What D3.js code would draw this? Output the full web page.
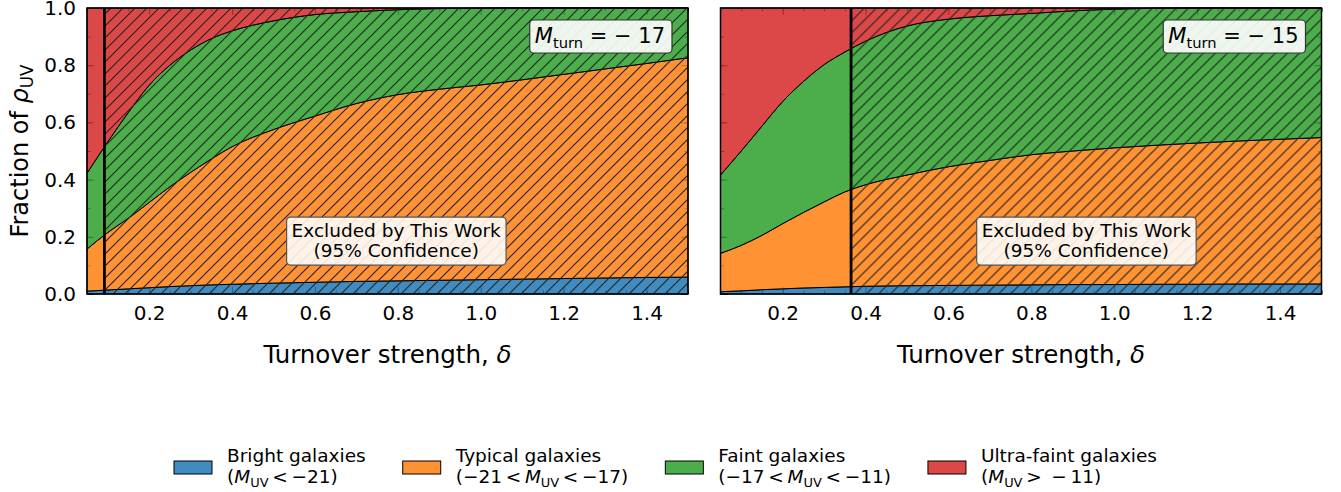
<!DOCTYPE html>
<html>
<head>
<meta charset="utf-8">
<script src="https://cdn.jsdelivr.net/npm/d3@7/dist/d3.min.js"></script>
<style>
body { margin: 0; background: #fff; }
text { font-family: "DejaVu Sans", sans-serif; fill: #000; }
</style>
</head>
<body>
<svg id="chart" width="1341" height="492"></svg>
<script>
// turnover strength grid
var delta = [0.05, 0.10, 0.15, 0.20, 0.25, 0.30, 0.35, 0.40, 0.50, 0.60, 0.70, 0.80, 0.90, 1.00, 1.10, 1.20, 1.30, 1.40, 1.50];

// fractions of rho_UV, M_turn = -17
var bright17 = [0.010, 0.014, 0.018, 0.022, 0.026, 0.029, 0.032, 0.034, 0.038, 0.041, 0.044, 0.046, 0.048, 0.050, 0.052, 0.054, 0.056, 0.058, 0.059];
var typical17 = [0.147, 0.201, 0.247, 0.298, 0.349, 0.396, 0.440, 0.481, 0.537, 0.581, 0.622, 0.651, 0.668, 0.681, 0.697, 0.714, 0.731, 0.748, 0.767];
var faint17 = [0.265, 0.317, 0.370, 0.410, 0.425, 0.428, 0.421, 0.405, 0.380, 0.355, 0.321, 0.297, 0.282, 0.268, 0.251, 0.232, 0.213, 0.194, 0.174];
var ultra17 = [0.578, 0.468, 0.365, 0.270, 0.200, 0.147, 0.107, 0.080, 0.045, 0.023, 0.013, 0.006, 0.002, 0.001, 0.000, 0.000, 0.000, 0.000, 0.000];

// fractions of rho_UV, M_turn = -15
var bright15 = [0.008, 0.011, 0.015, 0.018, 0.021, 0.023, 0.025, 0.027, 0.029, 0.030, 0.031, 0.032, 0.033, 0.033, 0.034, 0.034, 0.035, 0.035, 0.035];
var typical15 = [0.134, 0.159, 0.190, 0.228, 0.264, 0.299, 0.332, 0.355, 0.387, 0.415, 0.436, 0.455, 0.467, 0.478, 0.486, 0.494, 0.500, 0.506, 0.512];
var faint15 = [0.274, 0.330, 0.382, 0.427, 0.458, 0.480, 0.489, 0.502, 0.521, 0.516, 0.506, 0.494, 0.490, 0.485, 0.479, 0.472, 0.465, 0.459, 0.453];
var ultra15 = [0.584, 0.500, 0.413, 0.327, 0.257, 0.198, 0.154, 0.116, 0.063, 0.039, 0.027, 0.019, 0.010, 0.004, 0.001, 0.000, 0.000, 0.000, 0.000];

var mturn = ["\u221217", "\u221215"];
var deltaLimit = [0.092, 0.365];   // excluded above these (95%)

var sp = "\u2009"; // thin space, mathtext-like spacing round relations
var popNames = ["Bright galaxies", "Typical galaxies", "Faint galaxies", "Ultra-faint galaxies"];
var popRanges = [
  [["(", ""], ["M", "it"], ["UV", "sub"], [sp + "<" + sp + "\u221221)", ""]],
  [["(\u221221" + sp + "<" + sp, ""], ["M", "it"], ["UV", "sub"], [sp + "<" + sp + "\u221217)", ""]],
  [["(\u221217" + sp + "<" + sp, ""], ["M", "it"], ["UV", "sub"], [sp + "<" + sp + "\u221211)", ""]],
  [["(", ""], ["M", "it"], ["UV", "sub"], [sp + ">" + sp + " \u2212" + sp + "11)", ""]]
];
var popColors = ["#1f77b4", "#ff7f0e", "#2ca02c", "#d62728"];
var keys = ["bright", "typical", "faint", "ultra"];

var xTicks = [0.2, 0.4, 0.6, 0.8, 1.0, 1.2, 1.4];
var xMinor = d3.range(0.05, 1.5001, 0.05);
var yTicks = [0.0, 0.2, 0.4, 0.6, 0.8, 1.0];
var yMinor = d3.range(0, 1.0001, 0.1);

var svg = d3.select("#chart");
var W = 601, H = 286, TOP = 8;
var panelLeft = [87, 720.5];

var defs = svg.append("defs");
defs.append("pattern")
  .attr("id", "hatch")
  .attr("patternUnits", "userSpaceOnUse")
  .attr("width", 12).attr("height", 12)
  .append("path")
  .attr("d", "M-1,1 l2,-2 M0,12 l12,-12 M11,13 l2,-2")
  .attr("stroke", "#222")
  .attr("stroke-width", 1.1);

function richText(sel, parts, size) {
  var shift = 0;
  parts.forEach(function(p) {
    var t = sel.append("tspan").text(p[0]);
    if (p[1] == "it") t.attr("font-style", "italic");
    if (p[1] == "sub") {
      shift = size * 0.22;
      t.attr("font-size", size * 0.7).attr("dy", shift);
    } else if (shift) {
      t.attr("dy", -shift);
      shift = 0;
    }
  });
}

function drawPanel(i, series) {
  var x = d3.scaleLinear().domain([0.05, 1.5]).range([0, W]);
  var y = d3.scaleLinear().domain([0, 1]).range([H, 0]);
  var g = svg.append("g").attr("transform", "translate(" + panelLeft[i] + "," + TOP + ")");

  // ticks (drawn first, fills sit on top with alpha)
  function tickAxis(axis, tr, labels) {
    var a = g.append("g").attr("transform", tr).call(axis);
    a.select(".domain").remove();
    a.selectAll("line").attr("stroke", "#000").attr("stroke-width", 1);
    a.selectAll("text").attr("font-size", 20).attr("font-family", "DejaVu Sans");
    if (!labels) a.selectAll("text").remove();
    return a;
  }
  tickAxis(d3.axisBottom(x).tickValues(xTicks).tickSize(-7).tickPadding(12).tickFormat(d3.format(".1f")), "translate(0," + H + ")", true);
  tickAxis(d3.axisBottom(x).tickValues(xMinor).tickSize(-3.5).tickFormat(""), "translate(0," + H + ")", false);
  tickAxis(d3.axisTop(x).tickValues(xTicks).tickSize(-7).tickFormat(""), "translate(0,0)", false);
  tickAxis(d3.axisTop(x).tickValues(xMinor).tickSize(-3.5).tickFormat(""), "translate(0,0)", false);
  tickAxis(d3.axisLeft(y).tickValues(yTicks).tickSize(-7).tickPadding(11).tickFormat(d3.format(".1f")), "translate(0,0)", i == 0);
  tickAxis(d3.axisLeft(y).tickValues(yMinor).tickSize(-3.5).tickFormat(""), "translate(0,0)", false);
  tickAxis(d3.axisRight(y).tickValues(yTicks).tickSize(-7).tickFormat(""), "translate(" + W + ",0)", false);
  tickAxis(d3.axisRight(y).tickValues(yMinor).tickSize(-3.5).tickFormat(""), "translate(" + W + ",0)", false);

  var rows = delta.map(function(d, j) {
    return { d: d, bright: series[0][j], typical: series[1][j], faint: series[2][j], ultra: series[3][j] };
  });
  var layers = d3.stack().keys(keys)(rows);
  var area = d3.area()
    .x(function(d) { return x(d.data.d); })
    .y0(function(d) { return y(d[0]); })
    .y1(function(d) { return y(d[1]); })
    .curve(d3.curveMonotoneX);

  g.selectAll("path.layer")
    .data(layers)
    .join("path")
    .attr("class", "layer")
    .attr("d", area)
    .attr("fill", function(d, k) { return popColors[k]; })
    .attr("fill-opacity", 0.85)
    .attr("stroke", "#000")
    .attr("stroke-width", 1);

  // excluded region
  var xc = x(deltaLimit[i]);
  g.append("rect")
    .attr("x", xc).attr("y", 0)
    .attr("width", W - xc).attr("height", H)
    .attr("fill", "url(#hatch)");
  g.append("line")
    .attr("x1", xc).attr("x2", xc).attr("y1", 0).attr("y2", H)
    .attr("stroke", "#000").attr("stroke-width", 2.8);

  // frame
  g.append("rect")
    .attr("width", W).attr("height", H)
    .attr("fill", "none").attr("stroke", "#000").attr("stroke-width", 1.5);

  // excluded label
  var ex = x((deltaLimit[i] + 1.5) / 2), ey = y(0.185);
  var box = g.append("rect");
  var lbl = g.append("text").attr("text-anchor", "middle").attr("font-size", 18.5);
  lbl.append("tspan").attr("x", ex).attr("y", ey - 4.5).text("Excluded by This Work");
  lbl.append("tspan").attr("x", ex).attr("y", ey + 15.5).text("(95% Confidence)");
  var bb = lbl.node().getBBox();
  box.attr("x", bb.x - 5).attr("y", ey - 24).attr("width", bb.width + 10).attr("height", 48)
    .attr("rx", 4).attr("fill", "#fff").attr("fill-opacity", 0.88)
    .attr("stroke", "#555").attr("stroke-width", 1.2);

  // M_turn label
  var mbox = g.append("rect");
  var mt = g.append("text").attr("x", W - 23).attr("y", 35).attr("text-anchor", "end").attr("font-size", 21);
  richText(mt, [["M", "it"], ["turn", "sub"], [" = \u2212 " + mturn[i].slice(1), ""]], 21);
  var mb = mt.node().getBBox();
  mbox.attr("x", mb.x - 5).attr("y", 12).attr("width", mb.width + 12).attr("height", 33)
    .attr("rx", 4).attr("fill", "#fff").attr("fill-opacity", 0.9)
    .attr("stroke", "#333").attr("stroke-width", 1.2);

  // x label
  var xl = g.append("text").attr("x", W / 2).attr("y", 355).attr("text-anchor", "middle").attr("font-size", 24.5);
  xl.append("tspan").text("Turnover strength, ");
  xl.append("tspan").attr("font-style", "italic").text("\u03b4");

  if (i == 0) {
    var yl = g.append("text")
      .attr("transform", "translate(" + (28 - panelLeft[0]) + "," + (H / 2) + ") rotate(-90)")
      .attr("text-anchor", "middle").attr("font-size", 24);
    richText(yl, [["Fraction of ", ""], ["\u03c1", "it"], ["UV", "sub"]], 24);
  }
}

drawPanel(0, [bright17, typical17, faint17, ultra17]);
drawPanel(1, [bright15, typical15, faint15, ultra15]);

// legend
var leg = svg.append("g");
var lx = 174;
popNames.forEach(function(name, k) {
  var e = leg.append("g").attr("transform", "translate(" + lx + ",0)");
  e.append("rect").attr("x", 0).attr("y", 461).attr("width", 38).attr("height", 13)
    .attr("fill", popColors[k]).attr("fill-opacity", 0.85)
    .attr("stroke", "#000").attr("stroke-width", 1);
  var t = e.append("text").attr("font-size", 18.5);
  t.append("tspan").attr("x", 53).attr("y", 462).text(name);
  var t2 = e.append("text").attr("x", 53).attr("y", 483).attr("font-size", 18.5);
  richText(t2, popRanges[k], 18.5);
  var w = Math.max(t.node().getComputedTextLength(), t2.node().getBBox().width);
  lx += 53 + w + 37;
});
</script>
</body>
</html>
